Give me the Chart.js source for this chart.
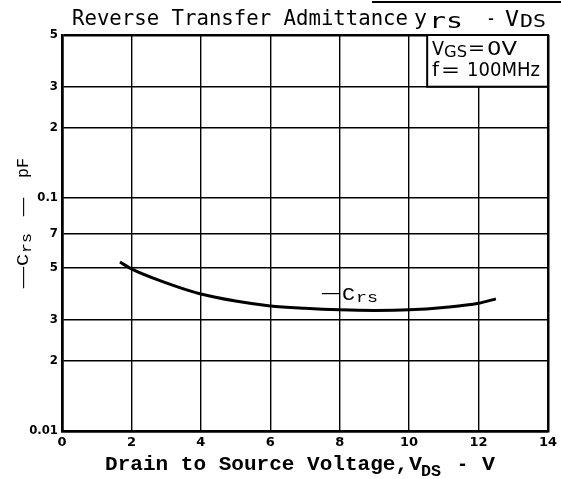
<!DOCTYPE html>
<html><head><meta charset="utf-8">
<script src="https://cdn.jsdelivr.net/npm/chart.js@4.4.0/dist/chart.umd.min.js"></script>
<style>html,body{margin:0;padding:0;background:#fff;}#wrap{width:561px;height:479px;}</style>
</head><body><div id="wrap"><canvas id="c" width="561" height="479"></canvas></div>
<script>
const vdsValues = [1.67, 2, 3, 4, 5, 6, 7, 8, 9, 10, 11, 12, 12.5];
const crsValues = [0.0531, 0.0496, 0.0432, 0.0387, 0.0361, 0.0344, 0.0336, 0.0331, 0.0329, 0.0331, 0.0339, 0.0353, 0.0369];
const xTickValues = [0, 2, 4, 6, 8, 10, 12, 14];
const yTickValues = [0.01, 0.02, 0.03, 0.05, 0.07, 0.1, 0.2, 0.3, 0.5];
const yTickLabels = ['0.01', '2', '3', '5', '7', '0.1', '2', '3', '5'];

function txt(ctx, s, x, y, font, w) {
  ctx.save();
  ctx.font = font;
  const m = ctx.measureText(s).width;
  ctx.translate(x, y);
  if (w) ctx.scale(w / m, 1);
  ctx.fillText(s, 0, 0);
  ctx.restore();
}

const textPlugin = {
  id: 'texts',
  afterDraw(chart) {
    const ctx = chart.ctx;
    const xs = chart.scales.x, ys = chart.scales.y, ca = chart.chartArea;
    ctx.save();
    ctx.fillStyle = '#000';
    ctx.strokeStyle = '#000';
    ctx.textBaseline = 'alphabetic';
    ctx.textAlign = 'left';
    // stray top line
    ctx.lineWidth = 2;
    ctx.beginPath(); ctx.moveTo(372, 2); ctx.lineTo(561, 2); ctx.stroke();
    // title
    const tf = "21px 'DejaVu Sans Mono'";
    txt(ctx, 'Reverse Transfer Admittance', 72, 25, tf, 336);
    txt(ctx, 'y', 414, 25, tf, 13);
    txt(ctx, 'rs', 429, 28, tf, 34);
    txt(ctx, '-', 486, 25, tf, 10);
    txt(ctx, 'V', 505, 26, tf, 14);
    txt(ctx, 'DS', 520, 27, "17px 'DejaVu Sans Mono'", 26);
    // annotation box
    const bx = xs.getPixelForValue(10.52), by = ca.top, bw = ca.right - bx, bh = ys.getPixelForValue(0.3) - ca.top;
    ctx.fillStyle = '#fff';
    ctx.fillRect(bx, by, bw, bh);
    ctx.lineWidth = 2;
    ctx.strokeRect(bx, by, bw, bh);
    ctx.fillStyle = '#000';
    const bf = "20px 'Liberation Sans Narrow', 'DejaVu Sans Condensed', sans-serif";
    txt(ctx, 'V', 432, 55, bf, 12);
    txt(ctx, 'GS', 444, 57, "15px 'Liberation Sans Narrow', 'DejaVu Sans Condensed', sans-serif", 23);
    txt(ctx, '=', 468, 54, bf, 17);
    txt(ctx, '0V', 487, 55, bf, 30);
    txt(ctx, 'f', 432, 76, bf, 7);
    txt(ctx, '=', 441, 76, bf, 19);
    txt(ctx, '100MHz', 467, 76, bf, 73);
    // curve label
    const lf = "18px 'Liberation Mono'";
    txt(ctx, '\u2014', 322, 298, lf, 18);
    txt(ctx, 'C', 342, 300, lf, 13);
    txt(ctx, 'rs', 356, 302, "15px 'Liberation Mono'", 22);
    // x axis title
    const xf = "bold 21px 'Liberation Mono'";
    txt(ctx, 'Drain to Source Voltage,', 105, 470, xf, 303);
    txt(ctx, 'V', 409, 470, xf, 13);
    txt(ctx, 'DS', 421, 476, "bold 17px 'Liberation Mono'", 20);
    txt(ctx, '-', 457, 470, xf, 11);
    txt(ctx, 'V', 482, 470, xf, 13);
    // y axis title (rotated)
    ctx.translate(28, 0);
    ctx.rotate(-Math.PI / 2);
    const yf = "17px 'Liberation Mono'";
    txt(ctx, '\u2014', -288, 0, yf, 21);
    txt(ctx, 'C', -266, 0, yf, 12);
    txt(ctx, 'rs', -253, 3, "14px 'Liberation Mono'", 20);
    txt(ctx, '\u2014', -216, 0, yf, 18);
    txt(ctx, 'pF', -178, 0, yf, 20);
    ctx.restore();
  }
};

const edgeW = (ctx, a, b) => (ctx.tick && (ctx.tick.value === a || ctx.tick.value === b)) ? 2.5 : 1.4;

new Chart(document.getElementById('c'), {
  type: 'line',
  data: {
    datasets: [{
      data: vdsValues.map((v, i) => ({ x: v, y: crsValues[i] })),
      borderColor: '#000',
      borderWidth: 3,
      pointRadius: 0,
      fill: false,
      cubicInterpolationMode: 'monotone'
    }]
  },
  options: {
    responsive: false,
    animation: false,
    devicePixelRatio: 1,
    layout: { padding: { top: 35, right: 13, left: 0, bottom: 0 } },
    plugins: { legend: { display: false }, title: { display: false }, tooltip: { enabled: false } },
    scales: {
      x: {
        type: 'linear', min: 0, max: 14,
        afterBuildTicks: s => { s.ticks = xTickValues.map(v => ({ value: v })); },
        afterFit: s => { s.height = 48; },
        ticks: { color: '#000', font: { family: "'DejaVu Sans'", weight: 'bold', size: 13 }, padding: 4, maxRotation: 0, autoSkip: false },
        grid: { color: '#000', lineWidth: c => edgeW(c, 0, 14), drawTicks: false },
        border: { display: true, color: '#000', width: 2.5 }
      },
      y: {
        type: 'logarithmic', min: 0.01, max: 0.5,
        afterBuildTicks: s => { s.ticks = yTickValues.map(v => ({ value: v })); },
        afterFit: s => { s.width = 62; },
        ticks: { color: '#000', font: { family: "'DejaVu Sans Condensed', 'DejaVu Sans'", weight: 'bold', size: 13 }, padding: 4, autoSkip: false,
          callback: (v, i) => yTickLabels[i] },
        grid: { color: '#000', lineWidth: c => edgeW(c, 0.01, 0.5), drawTicks: false },
        border: { display: true, color: '#000', width: 2.5 }
      }
    }
  },
  plugins: [textPlugin]
});
</script>
</body></html>
